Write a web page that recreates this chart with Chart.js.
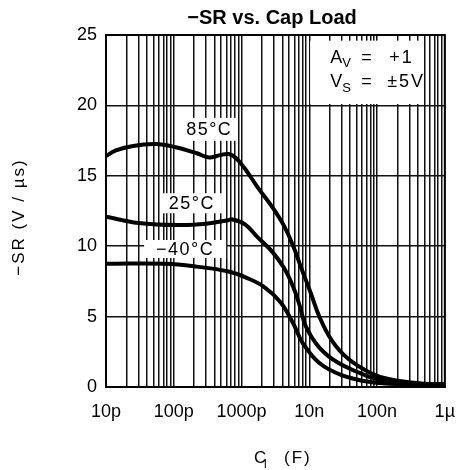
<!DOCTYPE html>
<html>
<head>
<meta charset="utf-8">
<script src="https://cdn.jsdelivr.net/npm/chart.js@4.4.1/dist/chart.umd.min.js"></script>
<style>
html, body { margin: 0; padding: 0; background: #fff; }
</style>
</head>
<body>
<canvas id="chart" width="469" height="470"></canvas>
<script>
// load capacitance in pF, -SR in V/us
var cap85 = [10, 14, 24, 53, 103, 218, 334, 464, 644, 811, 1125, 1720, 2730, 4180, 5800, 7540, 10470, 14070, 21550, 37600, 80000, 154000, 455000, 1000000];
var sr85  = [16.4, 16.8, 17.1, 17.25, 17.05, 16.6, 16.3, 16.45, 16.55, 16.3, 15.5, 14.2, 12.9, 11.5, 10.0, 8.5, 6.7, 5.0, 3.3, 2.0, 1.0, 0.55, 0.25, 0.2];

var cap25 = [10, 30, 125, 303, 644, 735, 1125, 1720, 2730, 4180, 5800, 7300, 8890, 14070, 27100, 80000, 154000, 455000, 1000000];
var sr25  = [12.1, 11.65, 11.5, 11.6, 11.85, 11.9, 11.55, 10.65, 9.7, 8.5, 7.1, 5.7, 4.3, 2.8, 1.7, 0.7, 0.35, 0.2, 0.2];

var capM40 = [10, 74, 218, 644, 1125, 2170, 3790, 5800, 8050, 14070, 29900, 80000, 214000, 1000000];
var srM40  = [8.75, 8.75, 8.55, 8.2, 7.8, 7.1, 6.0, 4.5, 3.1, 1.7, 0.85, 0.35, 0.2, 0.2];

var xTickValues = [10, 100, 1000, 10000, 100000, 1000000];
var xTickLabels = ['10p', '100p', '1000p', '10n', '100n', '1\u00b5'];
var yTickValues = [0, 5, 10, 15, 20, 25];

var FONT = '"Liberation Sans", Arial, sans-serif';

function pts(xs, ys) {
    return xs.map(function(x, i) { return { x: x, y: ys[i] }; });
}

function curve(xs, ys) {
    return {
        data: pts(xs, ys),
        borderColor: '#000',
        borderWidth: 4,
        pointRadius: 0,
        fill: false,
        tension: 0.4
    };
}

function textBox(ctx, text, cx, cy, w, h) {
    ctx.fillStyle = '#fff';
    ctx.fillRect(cx - w / 2, cy - h / 2, w, h);
    ctx.fillStyle = '#000';
    ctx.font = '18px ' + FONT;
    ctx.letterSpacing = '1.5px';
    ctx.textAlign = 'center';
    ctx.textBaseline = 'middle';
    ctx.fillText(text, cx, cy + 1);
    ctx.letterSpacing = '0px';
}

var boxes = {
    id: 'boxes',
    beforeDatasetsDraw: function(chart) {
        var ctx = chart.ctx, x = chart.scales.x, y = chart.scales.y;
        ctx.save();
        textBox(ctx, '85\u00b0C', x.getPixelForValue(334), y.getPixelForValue(18.3), 57, 23);
        textBox(ctx, '25\u00b0C', x.getPixelForValue(185), y.getPixelForValue(13.05), 60, 20);
        textBox(ctx, '\u221240\u00b0C', x.getPixelForValue(147), y.getPixelForValue(9.8), 82, 18);

        // conditions box, top right
        var l = x.getPixelForValue(10300), r = x.getPixelForValue(470000);
        var t = y.getPixelForValue(24.6), b = y.getPixelForValue(20.1);
        ctx.fillStyle = '#fff';
        ctx.fillRect(l, t, r - l, b - t);
        ctx.fillStyle = '#000';
        ctx.textAlign = 'left';
        ctx.textBaseline = 'alphabetic';
        ctx.font = '18px ' + FONT;
        ctx.fillText('A', l + 20, t + 22);
        ctx.fillText('V', l + 20, t + 46);
        ctx.fillText('=', l + 51, t + 22);
        ctx.fillText('=', l + 51, t + 46);
        ctx.letterSpacing = '2px';
        ctx.fillText('+1', l + 79, t + 22);
        ctx.fillText('\u00b15V', l + 77, t + 46);
        ctx.letterSpacing = '0px';
        ctx.font = '13px ' + FONT;
        ctx.fillText('V', l + 32, t + 26);
        ctx.fillText('S', l + 32, t + 51);
        ctx.restore();
    },
    afterDraw: function(chart) {
        var ctx = chart.ctx, a = chart.chartArea;
        ctx.save();
        ctx.strokeStyle = '#000';
        ctx.lineWidth = 2;
        ctx.strokeRect(a.left, a.top, a.right - a.left, a.bottom - a.top);

        ctx.fillStyle = '#000';
        ctx.textAlign = 'center';
        ctx.textBaseline = 'middle';
        ctx.font = 'bold 20px ' + FONT;
        ctx.fillText('\u2212SR vs. Cap Load', 272, 18);

        ctx.font = '17px ' + FONT;
        ctx.letterSpacing = '2px';
        ctx.save();
        ctx.translate(19, 217);
        ctx.rotate(-Math.PI / 2);
        ctx.fillText('\u2212SR (V / \u00b5s)', 0, 0);
        ctx.restore();

        ctx.textAlign = 'left';
        ctx.textBaseline = 'alphabetic';
        ctx.letterSpacing = '0px';
        ctx.fillText('C', 254, 463);
        ctx.font = '12px ' + FONT;
        ctx.fillText('l', 264, 468);
        ctx.font = '17px ' + FONT;
        ctx.letterSpacing = '2px';
        ctx.fillText('(F)', 284, 463);
        ctx.restore();
    }
};

new Chart(document.getElementById('chart').getContext('2d'), {
    type: 'line',
    data: {
        datasets: [curve(cap85, sr85), curve(cap25, sr25), curve(capM40, srM40)]
    },
    options: {
        responsive: false,
        animation: false,
        devicePixelRatio: 1,
        layout: { padding: { left: 0, right: 12, top: 35, bottom: 0 } },
        plugins: { legend: { display: false }, tooltip: { enabled: false } },
        scales: {
            x: {
                type: 'logarithmic',
                min: 10,
                max: 1000000,
                afterBuildTicks: function(scale) {
                    var t = [];
                    for (var d = 10; d < 1000000; d *= 10)
                        for (var m = 1; m < 10; m++)
                            t.push({ value: d * m });
                    t.push({ value: 1000000 });
                    scale.ticks = t;
                },
                afterFit: function(scale) { scale.height = 83; },
                ticks: {
                    autoSkip: false,
                    maxRotation: 0,
                    padding: 14,
                    color: '#000',
                    font: { family: FONT, size: 18 },
                    callback: function(v) {
                        var i = xTickValues.indexOf(v);
                        return i > -1 ? xTickLabels[i] : '';
                    }
                },
                grid: { color: '#111', lineWidth: 1.5, drawTicks: false },
                border: { color: '#000', width: 2 }
            },
            y: {
                min: 0,
                max: 25,
                afterBuildTicks: function(scale) {
                    scale.ticks = yTickValues.map(function(v) { return { value: v }; });
                },
                afterFit: function(scale) { scale.width = 106; },
                ticks: {
                    padding: 9,
                    color: '#000',
                    font: { family: FONT, size: 18 }
                },
                grid: { color: '#111', lineWidth: 1.5, drawTicks: false },
                border: { color: '#000', width: 2 }
            }
        }
    },
    plugins: [boxes]
});
</script>
</body>
</html>
